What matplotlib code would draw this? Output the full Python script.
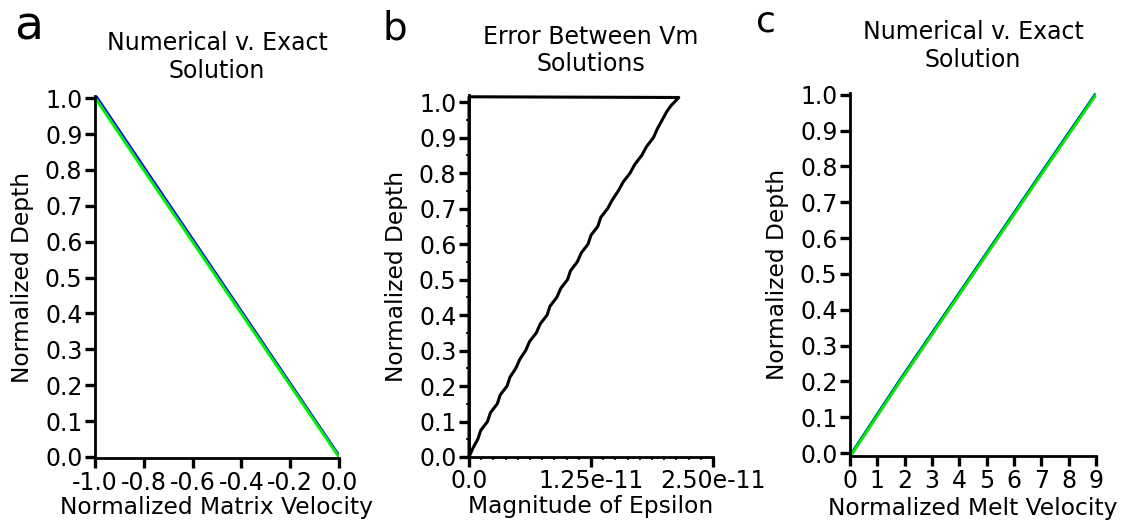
import numpy as np
import matplotlib
matplotlib.use('Agg')
import matplotlib.pyplot as plt
from matplotlib.ticker import MultipleLocator

plt.rcParams['font.family'] = ['DejaVu Sans']
plt.rcParams['axes.unicode_minus'] = False

# panel a: matrix velocity vs depth
depth_a = [0.0, 0.2, 0.4, 0.6, 0.8, 1.0, 1.005]
matrix_exact = [0.004, -0.195, -0.394, -0.593, -0.792, -0.99, -0.995]
matrix_numeric = [0.0, -0.2, -0.4, -0.6, -0.8, -0.998, -1.0]

# panel b: error between vm solutions (x 1e-11)
depth_b = [0.0, 0.025, 0.05, 0.075, 0.10, 0.125, 0.15, 0.175, 0.20, 0.225,
           0.25, 0.275, 0.30, 0.325, 0.35, 0.375, 0.40, 0.425, 0.45, 0.475,
           0.50, 0.525, 0.55, 0.575, 0.60, 0.625, 0.65, 0.675, 0.70, 0.725,
           0.75, 0.775, 0.80, 0.825, 0.85, 0.875, 0.90, 0.925, 0.95, 0.975,
           0.99, 1.013, 1.015, 0.0]
epsilon = [0.0, 0.04, 0.09, 0.12, 0.19, 0.22, 0.29, 0.32, 0.39, 0.42,
           0.48, 0.52, 0.58, 0.62, 0.69, 0.73, 0.80, 0.83, 0.90, 0.94,
           1.01, 1.04, 1.11, 1.15, 1.22, 1.25, 1.32, 1.35, 1.42, 1.47,
           1.53, 1.58, 1.65, 1.70, 1.77, 1.82, 1.89, 1.93, 1.98, 2.03,
           2.07, 2.15, 0.0, 0.0]

# panel c: melt velocity vs depth
depth_c = [-0.005, 0.2, 0.4, 0.6, 0.8, 1.0]
melt_exact = [0.02, 1.79, 3.58, 5.37, 7.16, 8.96]
melt_numeric = [0.05, 1.83, 3.62, 5.41, 7.20, 9.0]

W, H = 1137, 532
fig = plt.figure(figsize=(W / 100, H / 100), dpi=100)


def box(l, t, r, b):
    return [l / W, 1 - b / H, (r - l) / W, (b - t) / H]


ax_a = fig.add_axes(box(95, 96, 339, 458))
ax_b = fig.add_axes(box(469, 95, 713, 457))
ax_c = fig.add_axes(box(850, 93, 1096, 456))

tick_fs = 17
lab_fs = 16.8
title_fs = 17
for ax in (ax_a, ax_b, ax_c):
    ax.spines['right'].set_visible(False)
    ax.spines['top'].set_visible(False)
    for s in ('left', 'bottom'):
        ax.spines[s].set_linewidth(2.0)
    ax.tick_params(which='major', direction='out', length=7, width=2.4,
                   labelsize=tick_fs, pad=2)
    ax.set_ylabel('Normalized Depth', fontsize=lab_fs, labelpad=8)
    ax.set_yticks(np.arange(0, 1.01, 0.1))
    ax.set_yticklabels(['%.1f' % v for v in np.arange(0, 1.01, 0.1)])

# a
ax_a.plot(matrix_exact, depth_a, color='#0000ff', lw=2.0)
ax_a.plot(matrix_numeric, depth_a, color='#00ee00', lw=2.2)
ax_a.set_xlim(-1.0, 0.0)
ax_a.set_ylim(-0.003, 1.006)
ax_a.set_xticks([-1.0, -0.8, -0.6, -0.4, -0.2, 0.0])
ax_a.set_xticklabels(['-1.0', '-0.8', '-0.6', '-0.4', '-0.2', '0.0'])
ax_a.set_xlabel('Normalized Matrix Velocity', fontsize=lab_fs, labelpad=1)
ax_a.set_title('Numerical v. Exact\nSolution', fontsize=title_fs, pad=13)

# b
ax_b.plot([e * 1e-11 for e in epsilon], depth_b, color='black', lw=2.2,
          clip_on=False)
ax_b.set_xlim(0, 2.5e-11)
ax_b.set_ylim(0, 1.02)
ax_b.set_xticks([0, 1.25e-11, 2.5e-11])
ax_b.set_xticklabels(['0.0', '1.25e-11', '2.50e-11'])
ax_b.xaxis.set_minor_locator(MultipleLocator(0.125e-11))
ax_b.yaxis.set_minor_locator(MultipleLocator(0.05))
ax_b.tick_params(which='minor', direction='out', length=2, width=1.2)
ax_b.set_xlabel('Magnitude of Epsilon', fontsize=lab_fs, labelpad=1)
ax_b.set_title('Error Between Vm\nSolutions', fontsize=title_fs, pad=17)

# c
ax_c.plot(melt_exact, depth_c, color='#0000ff', lw=2.0)
ax_c.plot(melt_numeric, depth_c, color='#00ee00', lw=2.2)
ax_c.set_xlim(0, 9)
ax_c.set_ylim(-0.008, 1.005)
ax_c.set_xticks(range(10))
ax_c.set_xlabel('Normalized Melt Velocity', fontsize=lab_fs, labelpad=3)
ax_c.set_title('Numerical v. Exact\nSolution', fontsize=title_fs, pad=19)

fig.text(14 / W, 1 - 40 / H, 'a', fontsize=34)
fig.text(383 / W, 1 - 40 / H, 'b', fontsize=28)
fig.text(756 / W, 1 - 31 / H, 'c', fontsize=26)

fig.savefig('out.png', dpi=100)
